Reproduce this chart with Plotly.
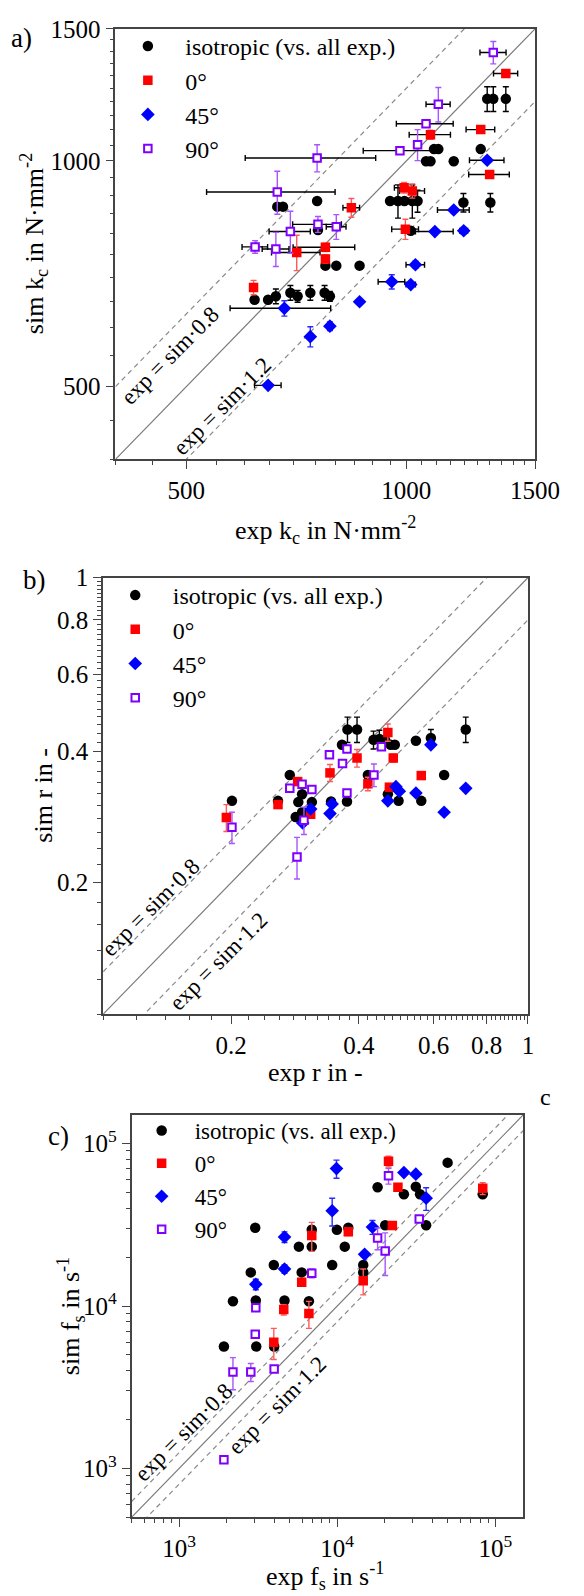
import math
import plotly.graph_objects as go

FONT = "Liberation Serif, Times New Roman, serif"
W, H = 584, 1596

names = ["isotropic (vs. all exp.)", "0°", "45°", "90°"]
# reference lines: sim = exp * f  (upper: exp = sim*0.8, lower: labelled exp = sim*1.2)
ref_factors = [1 / 0.8, 0.8]
ref_labels = ["exp = sim·0.8", "exp = sim·1.2"]

# ---------------- panel a : k_c in N/mm^2 ----------------
a_iso_x = [1290, 1315, 1368, 1091, 1106, 1264, 1064, 1079, 1161, 950, 974, 994, 1019, 1036,
           1197, 1303, 666, 678, 755, 757, 1014, 775, 802, 863, 620, 647, 663, 694, 710, 739, 773, 786]
a_iso_y = [1210, 1210, 1210, 1037, 1037, 1037, 999, 999, 999, 884, 884, 884, 884, 884,
           880, 880, 869, 869, 884, 809, 807, 725, 725, 725, 653, 653, 660, 667, 660, 667, 667, 660]
a_iso_ey = [46, 46, 46, 0, 0, 0, 0, 0, 0, 0, 45, 0, 45, 30,
            25, 25, 8, 8, 0, 0, 0, 0, 0, 0, 0, 0, 15, 15, 12, 15, 15, 10]

a_0_x = [1368, 1264, 1079, 1300, 993, 1019, 841, 997, 775, 708, 775, 618]
a_0_y = [1308, 1101, 1084, 959, 921, 912, 866, 811, 767, 755, 740, 678]
a_0_ex = [52, 57, 70, 83, 30, 40, 22, 42, 75, 54, 0, 0]
a_0_ey = [0, 0, 15, 0, 15, 20, 25, 25, 10, 41, 10, 15]

a_45_x = [1290, 1161, 1094, 1198, 1029, 955, 1014, 863, 681, 786, 739, 647]
a_45_y = [1002, 860, 805, 807, 727, 690, 684, 649, 636, 602, 583, 502]
a_45_ex = [70, 58, 65, 15, 30, 40, 15, 0, 107, 0, 0, 27]
a_45_ey = [0, 0, 0, 8, 8, 15, 5, 0, 15, 8, 18, 0]

a_90_x = [1315, 1106, 1064, 1036, 980, 755, 666, 757, 802, 694, 621, 663]
a_90_y = [1395, 1190, 1121, 1051, 1032, 1009, 909, 823, 817, 805, 768, 763]
a_90_ex = [54, 42, 95, 0, 107, 153, 133, 58, 25, 45, 25, 28]
a_90_ey = [48, 63, 10, 50, 0, 42, 60, 20, 31, 52, 15, 40]

# ---------------- panel b : r ----------------
b_iso_x = [0.376, 0.396, 0.714, 0.365, 0.433, 0.447, 0.461, 0.475, 0.486, 0.545, 0.591, 0.275, 0.420,
           0.635, 0.294, 0.468, 0.201, 0.258, 0.288, 0.310, 0.344, 0.375, 0.496, 0.561, 0.284, 0.294]
b_iso_y = [0.449, 0.449, 0.449, 0.414, 0.425, 0.427, 0.425, 0.414, 0.414, 0.423, 0.429, 0.353, 0.353,
           0.353, 0.319, 0.319, 0.308, 0.308, 0.306, 0.306, 0.307, 0.307, 0.308, 0.308, 0.283, 0.290]
b_iso_ey = [0.03, 0.03, 0.03, 0, 0.02, 0.02, 0, 0, 0, 0, 0.02, 0, 0,
            0, 0, 0.01, 0, 0, 0, 0, 0, 0, 0, 0, 0, 0]

b_0_x = [0.468, 0.396, 0.482, 0.342, 0.561, 0.287, 0.420, 0.472, 0.258, 0.308, 0.195]
b_0_y = [0.442, 0.386, 0.386, 0.357, 0.352, 0.341, 0.337, 0.331, 0.302, 0.287, 0.282]
b_0_ey = [0.02, 0.018, 0.008, 0.016, 0, 0, 0.012, 0, 0, 0, 0.02]

b_45_x = [0.591, 0.489, 0.498, 0.714, 0.545, 0.468, 0.346, 0.308, 0.342, 0.635, 0.295]
b_45_y = [0.414, 0.332, 0.324, 0.329, 0.321, 0.308, 0.303, 0.295, 0.288, 0.290, 0.274]
b_45_ey = [0, 0, 0, 0, 0, 0, 0, 0, 0, 0, 0]

b_90_x = [0.375, 0.452, 0.341, 0.366, 0.434, 0.275, 0.294, 0.310, 0.375, 0.201, 0.297, 0.286]
b_90_y = [0.405, 0.410, 0.393, 0.375, 0.353, 0.329, 0.336, 0.327, 0.321, 0.268, 0.278, 0.229]
b_90_ey = [0.005, 0, 0, 0, 0.021, 0, 0.005, 0.005, 0.005, 0.022, 0.02, 0.025]

# ---------------- panel c : f_s in 1/s ----------------
c_iso_x = [49900, 18000, 26400, 31400, 33400, 83200, 3030, 6900, 9950, 11750, 20100, 36500, 5720, 6900,
           11160, 3970, 9290, 14600, 2840, 5960, 14600, 2190, 3055, 4640, 6620, 1920, 3075, 3990]
c_iso_y = [76300, 53800, 48700, 54300, 48700, 48700, 30300, 29500, 29500, 30300, 31400, 31400, 23200, 23200,
           23200, 17900, 17900, 17900, 16100, 16100, 16100, 10700, 10800, 10800, 10700, 5630, 5630, 5630]
c_iso_ey = [0, 0, 0, 0, 0, 0, 0, 1500, 0, 0, 0, 0, 0, 0,
            0, 0, 0, 0, 0, 0, 0, 0, 0, 0, 0, 0, 0, 0]

c_0_x = [21100, 24200, 83200, 6900, 11750, 22300, 5960, 14600, 4590, 6620, 3970]
c_0_y = [77700, 53800, 53000, 27200, 28600, 31300, 14000, 14300, 9500, 8980, 5980]
c_0_ey = [6000, 0, 4500, 5500, 1500, 0, 0, 2600, 700, 1700, 1300]

c_45_x = [9890, 26400, 31400, 36500, 9290, 16700, 4640, 14900, 4640, 3055]
c_45_y = [70100, 66300, 64800, 46100, 38600, 30600, 26600, 20800, 16900, 13600]
c_45_ey = [9000, 0, 0, 7300, 7500, 3000, 2000, 0, 1000, 1000]

c_90_x = [21100, 33000, 18000, 20100, 6900, 3055, 3030, 2190, 2840, 3990, 1920]
c_90_y = [63300, 34300, 26200, 21800, 15900, 9760, 6690, 3930, 3930, 4100, 1130]
c_90_ey = [7000, 1000, 4000, 6400, 1000, 0, 0, 880, 500, 0, 0]

# axis ranges (data units) and ticks
a_range = [400, 1500]
b_range = [0.1, 1.0]
c_range = [500, 150000]

a_ticks = [500, 1000, 1500]
a_ticktext = ["500", "1000", "1500"]
b_ticks = [0.2, 0.4, 0.6, 0.8, 1.0]
b_ticktext = ["0.2", "0.4", "0.6", "0.8", "1"]
c_ticks = [1e3, 1e4, 1e5]
c_ticktext = ["10<sup>3</sup>", "10<sup>4</sup>", "10<sup>5</sup>"]

a_minor = [v for v in range(400, 1501, 50) if v not in a_ticks]
b_minor = [round(0.1 + 0.02 * i, 2) for i in range(46)]
b_minor = [v for v in b_minor if all(abs(v - t) > 1e-9 for t in b_ticks)]
c_minor = [k * 10 ** e for e in (2, 3, 4, 5) for k in range(1, 10)]
c_minor = [v for v in c_minor if c_range[0] <= v <= c_range[1] and v not in c_ticks]

# label positions of the reference lines (data units)
a_lab = [(475, 551), (560, 470)]
b_lab = [(0.1294, 0.1755), (0.1867, 0.1319)]
c_lab = [(1066, 1671), (4181, 2428)]

STY = [
    dict(symbol="circle", size=10.5, color="black", line=dict(width=0), ecol="black"),
    dict(symbol="square", size=9.5, color="#ff0000", line=dict(width=0), ecol="#ff5a5a"),
    dict(symbol="diamond", size=10.5, color="#0000ff", line=dict(width=0), ecol="#2a2aff"),
    dict(symbol="square", size=7.5, color="white", line=dict(color="#8000ff", width=2), ecol="#a855ff"),
]

fig = go.Figure()


def add_refs(xa, ya, rng):
    lo, hi = rng
    fig.add_trace(go.Scatter(x=[lo, hi], y=[lo, hi], mode="lines", xaxis=xa, yaxis=ya,
                             line=dict(color="#7a7a7a", width=1.2), showlegend=False, hoverinfo="skip"))
    for f in ref_factors:
        fig.add_trace(go.Scatter(x=[lo, hi], y=[lo * f, hi * f], mode="lines", xaxis=xa, yaxis=ya,
                                 line=dict(color="#8a8a8a", width=1.2, dash="5px,4px"),
                                 showlegend=False, hoverinfo="skip"))


def add_series(xa, ya, leg, i, x, y, ey, ex=None):
    s = STY[i]
    tr = dict(x=x, y=y, mode="markers", name=names[i], xaxis=xa, yaxis=ya, legend=leg,
              marker=dict(symbol=s["symbol"], size=s["size"], color=s["color"], line=s["line"]),
              error_y=dict(type="data", array=ey, color=s["ecol"], thickness=1.4, width=3),
              hoverinfo="x+y")
    if ex is not None:
        tr["error_x"] = dict(type="data", array=ex, color="black", thickness=1.4, width=3)
    fig.add_trace(go.Scatter(**tr))


add_refs("x", "y", a_range)
add_series("x", "y", "legend", 0, a_iso_x, a_iso_y, a_iso_ey)
add_series("x", "y", "legend", 1, a_0_x, a_0_y, a_0_ey, a_0_ex)
add_series("x", "y", "legend", 2, a_45_x, a_45_y, a_45_ey, a_45_ex)
add_series("x", "y", "legend", 3, a_90_x, a_90_y, a_90_ey, a_90_ex)

add_refs("x2", "y2", b_range)
add_series("x2", "y2", "legend2", 0, b_iso_x, b_iso_y, b_iso_ey)
add_series("x2", "y2", "legend2", 1, b_0_x, b_0_y, b_0_ey)
add_series("x2", "y2", "legend2", 2, b_45_x, b_45_y, b_45_ey)
add_series("x2", "y2", "legend2", 3, b_90_x, b_90_y, b_90_ey)

add_refs("x3", "y3", c_range)
add_series("x3", "y3", "legend3", 0, c_iso_x, c_iso_y, c_iso_ey)
add_series("x3", "y3", "legend3", 1, c_0_x, c_0_y, c_0_ey)
add_series("x3", "y3", "legend3", 2, c_45_x, c_45_y, c_45_ey)
add_series("x3", "y3", "legend3", 3, c_90_x, c_90_y, c_90_ey)

AX = "#444444"


def axis(dom, rng, tv, tt, minor, anchor):
    return dict(type="log", domain=dom, range=[math.log10(rng[0]), math.log10(rng[1])],
                anchor=anchor, showline=True, linecolor=AX, linewidth=1.7, mirror=True,
                ticks="outside", ticklen=8, tickwidth=1.4, tickcolor=AX,
                tickmode="array", tickvals=tv, ticktext=tt,
                minor=dict(tickmode="array", tickvals=minor, ticks="outside", ticklen=4,
                           tickwidth=1.2, tickcolor=AX, showgrid=False),
                showgrid=False, zeroline=False,
                tickfont=dict(family=FONT, size=25, color="black"))


def dx(l, r):
    return [l / W, r / W]


def dy(t, b):
    return [1 - b / H, 1 - t / H]


fig.update_layout(
    xaxis=axis(dx(120.6, 559), a_range, a_ticks, a_ticktext, a_minor, "y"),
    yaxis=axis(dy(16, 450), a_range, a_ticks, a_ticktext, a_minor, "x"),
    xaxis2=axis(dx(107.8, 551.5), b_range, b_ticks, b_ticktext, b_minor, "y2"),
    yaxis2=axis(dy(569.3, 1009.3), b_range, b_ticks, b_ticktext, b_minor, "x2"),
    xaxis3=axis(dx(137.4, 546.6), c_range, c_ticks, c_ticktext, c_minor, "y3"),
    yaxis3=axis(dy(1111, 1516.7), c_range, c_ticks, c_ticktext, c_minor, "x3"),
)


def leg(xpx, ypx, size, iw):
    return dict(x=xpx / W, y=1 - ypx / H, xanchor="left", yanchor="top",
                font=dict(family=FONT, size=size, color="black"), bgcolor="rgba(0,0,0,0)",
                itemwidth=iw, tracegroupgap=0, borderwidth=0)


fig.update_layout(
    legend=leg(115.3, 11, 24, 65),
    legend2=leg(102.1, 564.6, 24, 65),
    legend3=leg(134.4, 1105, 23, 56),
)

ann = []


def txt(x, y, s, size=26, angle=0, xref="paper", yref="paper"):
    ann.append(dict(x=x, y=y, xref=xref, yref=yref, text=s, showarrow=False, textangle=angle,
                    font=dict(family=FONT, size=size, color="black"),
                    xanchor="center", yanchor="middle"))


# panel labels
txt(22.5 / W, 1 - 25 / H, "a)", 27)
txt(35.6 / W, 1 - 572 / H, "b)", 27)
txt(60.8 / W, 1 - 1132 / H, "c)", 27)
txt(570 / W, 1 - 1093 / H, "c", 24)

# axis titles
txt(35.6 / W, 1 - 233 / H, "sim k<sub>c</sub> in N·mm<sup>-2</sup>", 26, -90)
txt(339.8 / W, 1 - 521 / H, "exp k<sub>c</sub> in N·mm<sup>-2</sup>", 26)
txt(45 / W, 1 - 789 / H, "sim r in -", 26, -90)
txt(329.6 / W, 1 - 1068 / H, "exp r in -", 26)
txt(74 / W, 1 - 1314 / H, "sim f<sub>s</sub> in s<sup>-1</sup>", 26, -90)
txt(340 / W, 1 - 1576 / H, "exp f<sub>s</sub> in s<sup>-1</sup>", 26)

# reference line labels (data coordinates, log axes -> log10 values)
for (xa, ya, labs) in (("x", "y", a_lab), ("x2", "y2", b_lab), ("x3", "y3", c_lab)):
    for lab, (lx, ly) in zip(ref_labels, labs):
        txt(math.log10(lx), math.log10(ly), lab, 23, -45, xa, ya)

fig.update_layout(annotations=ann, width=W, height=H, margin=dict(l=0, r=0, t=0, b=0),
                  font=dict(family=FONT, size=24, color="black"),
                  paper_bgcolor="white", plot_bgcolor="white", showlegend=True)

fig.write_html("out.html", config={"displayModeBar": False},
               post_script="document.body.style.margin='0px';")
